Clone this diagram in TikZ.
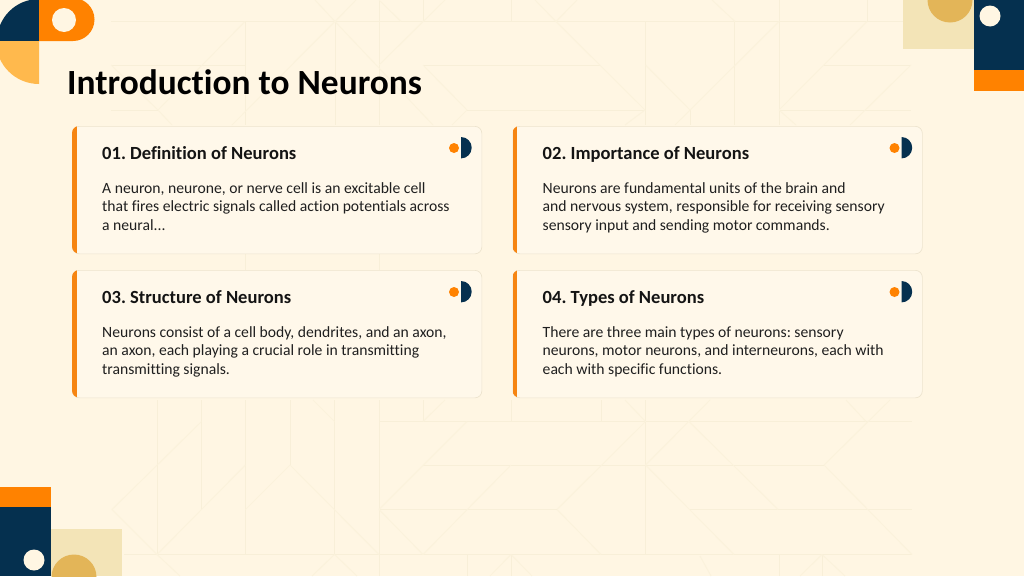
\documentclass[tikz,border=0pt]{standalone}
\usepackage{fontspec}
\setmainfont[RawFeature=-liga]{Carlito}
\frenchspacing
\definecolor{bgc}{HTML}{FFF6E3}
\definecolor{lnc}{HTML}{F8EFD8}
\definecolor{lnf}{HTML}{FBF2DC}
\definecolor{navyc}{HTML}{05304F}
\definecolor{orangec}{HTML}{FF8200}
\definecolor{barc}{HTML}{F68512}
\definecolor{yelc}{HTML}{FFB94D}
\definecolor{goldc}{HTML}{E3B558}
\definecolor{palec}{HTML}{F3E4B7}
\definecolor{cardc}{HTML}{FFF8EA}
\definecolor{edgec}{HTML}{EDE4CE}
\tikzset{
  gridline/.style={draw=lnc,line width=0.9pt},
  faintline/.style={draw=lnf,line width=1pt},
  cardbox/.style={draw=edgec,fill=cardc,line width=0.7pt,rounded corners=7pt,minimum width=409.5pt,minimum height=127.5pt,inner sep=0pt,anchor=north west},
  headtext/.style={anchor=base west,inner sep=0pt,font=\fontsize{18.55}{20}\selectfont\bfseries,text=black!92},
  bodytext/.style={anchor=north west,inner sep=0pt,align=left,font=\fontsize{15.65}{18.7}\selectfont,text=black!88},
}
\newcommand{\cardgroup}[5]{%
  \node[cardbox] (#1) at (#2,#3) {};
  \begin{scope}
    \clip[rounded corners=7pt] (#2,#3) rectangle ++(409.5,127.5);
    \fill[barc] (#2,#3) rectangle ++(4.5,127.5);
  \end{scope}
  \node[headtext] (#1h) at (#2+30,#3+33) {#4};
  \node[bodytext] (#1b) at (#2+30,#3+56.2) {#5};
  \fill[orangec] (#2+382,#3+22) circle (5);
  \fill[navyc] (#2+389,#3+11) arc (-90:90:10.7) -- cycle;
}
\begin{document}
\begin{tikzpicture}[x=1pt,y=-1pt]
\useasboundingbox (0,0) rectangle (1024,576);
\fill[bgc] (0,0) rectangle (1024,576);
% background pattern: bright lines
\path[gridline]
 (111,21.5)--(905,21.5) (111,65)--(245,65) (423,65)--(600,65) (824,65)--(911,65)
 (111,110)--(158,110) (467,110)--(645,110) (779,110)--(911,110)
 (379,421.5)--(912,421.5) (423,465)--(824,465) (379,509.5)--(557,509.5) (690,509.5)--(912,509.5)
 (124,554.5)--(912,554.5)
 (245,21.5)--(245,125) (335,21.5)--(335,125) (379,0)--(379,125) (511,0)--(511,21.5) (423,0)--(423,21.5)
 (645.5,21.5)--(645.5,125) (734,21.5)--(734,125) (779,0)--(779,125) (867,0)--(867,21.5) (690,110)--(690,125)
 (157,400)--(157,554.5) (201.5,400)--(201.5,509.5) (245.5,400)--(245.5,554.5) (290,400)--(290,465)
 (334.5,400)--(334.5,554.5) (379,400)--(379,576) (423,400)--(423,421.5) (511,400)--(511,421.5)
 (601,400)--(601,421.5) (645.5,400)--(645.5,554.5) (467,554.5)--(467,576) (511,554.5)--(511,576)
 (779,554.5)--(779,576) (822,554.5)--(822,576)
 (245,254)--(245,270) (379,254)--(379,270);
% background pattern: diagonal lines
\path[faintline]
 (245,21.5)--(158,110)--(172,125) (335,21.5)--(232,125) (315,0)--(335,21.5)--(433,125)
 (335,21.5)--(356,0) (379,65)--(445,0) (111,65)--(158,110) (379,0)--(401,21.5)
 (535,0)--(556,21.5)--(645,110)--(625,125) (556,21.5)--(577,0) (423,65)--(467,110)--(452,125)
 (645.5,65)--(690,110)--(703,97) (712,0)--(735,21.5) (779,21.5)--(675,125) (779,110)--(867,21.5)
 (911,65)--(850,125) (779,110)--(796,125)
 (201.5,421.5)--(112,509.5)--(157,554.5) (245.5,465)--(157,554.5) (290,465)--(245.5,509.5)
 (290,465)--(379,554.5) (334.5,554.5)--(312,576) (334.5,554.5)--(357,576) (157,554.5)--(180,576)
 (313,400)--(334.5,421.5) (379,509.5)--(467,421.5) (511,465)--(423,554.5)
 (379,509.5)--(423,554.5) (557,509.5)--(601,554.5) (557,509.5)--(645.5,421.5) (625,400)--(645.5,421.5)
 (423,421.5)--(445,400) (645.5,465)--(710,400) (689,421.5)--(778,509.5) (645.5,465)--(734,554.5)
 (824,465)--(890,400) (866,421.5)--(846,400) (824,465)--(912,554.5) (822,554.5)--(800,576)
 (822,554.5)--(845,576) (700,556)--(711,576) (511,554.5)--(490,576) (511,554.5)--(532,576);
% top-left emblem
\begin{scope}
  \clip (0,0) rectangle (100,90);
  \fill[navyc] (39,41) -- (-3,41) arc (180:270:42) -- cycle;
  \fill[yelc] (39,41) -- (-4,41) arc (180:90:43) -- cycle;
  \fill[orangec] (39,-2) -- (73,-2) arc (-90:90:21.5) -- (39,41) -- cycle;
\end{scope}
\fill[bgc] (64,20) circle (12);
% top-right emblem
\fill[palec] (903,0) rectangle (974,49);
\begin{scope}
  \clip (903,0) rectangle (974,49);
  \fill[goldc] (950,0) circle (22.5);
\end{scope}
\fill[navyc] (974,0) rectangle (1024,70);
\fill[orangec] (974,70) rectangle (1024,90.5);
\fill[bgc] (990,16) circle (10.5);
% bottom-left emblem
\fill[palec] (51,529) rectangle (121.5,576);
\begin{scope}
  \clip (51,529) rectangle (121.5,576);
  \fill[goldc] (74,577) circle (22.5);
\end{scope}
\fill[navyc] (0,506.5) rectangle (51,576);
\fill[orangec] (0,487) rectangle (51,506.5);
\fill[bgc] (34,560) circle (10.5);
% title
\node[anchor=base west,inner sep=0pt,font=\fontsize{35.4}{38}\selectfont\bfseries,text=black] (title) at (67,94) {Introduction to Neurons};
% cards
\cardgroup{c1}{72}{126}{01. Definition of Neurons}{A neuron, neurone, or nerve cell is an excitable cell\\that fires electric signals called action potentials across\\a neural...}
\cardgroup{c2}{512.5}{126}{02. Importance of Neurons}{Neurons are fundamental units of the brain and\\and nervous system, responsible for receiving sensory\\sensory input and sending motor commands.}
\cardgroup{c3}{72}{270}{03. Structure of Neurons}{Neurons consist of a cell body, dendrites, and an axon,\\an axon, each playing a crucial role in transmitting\\transmitting signals.}
\cardgroup{c4}{512.5}{270}{04. Types of Neurons}{There are three main types of neurons: sensory\\neurons, motor neurons, and interneurons, each with\\each with specific functions.}
\end{tikzpicture}
\end{document}
